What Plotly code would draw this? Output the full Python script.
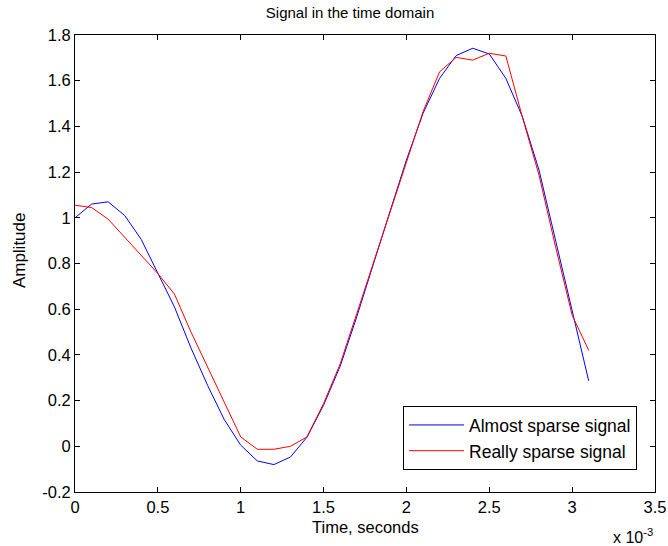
import plotly.graph_objects as go

# --- data (time in units of 1e-3 s) ---
time_ms = [0.0, 0.1, 0.2, 0.3, 0.4, 0.5, 0.6, 0.7, 0.8, 0.9,
           1.0, 1.1, 1.2, 1.3, 1.4, 1.5, 1.6, 1.7, 1.8, 1.9,
           2.0, 2.1, 2.2, 2.3, 2.4, 2.5, 2.6, 2.7, 2.8, 2.9,
           3.0, 3.1]

almost_sparse = [1.00, 1.06, 1.07, 1.01, 0.905, 0.76, 0.61, 0.43, 0.267, 0.118,
                 0.005, -0.064, -0.08, -0.047, 0.04, 0.18, 0.35, 0.566, 0.80, 1.026,
                 1.253, 1.457, 1.61, 1.71, 1.742, 1.717, 1.61, 1.442, 1.209, 0.902,
                 0.596, 0.286]

really_sparse = [1.055, 1.045, 0.994, 0.914, 0.834, 0.756, 0.666, 0.50, 0.347, 0.194,
                 0.041, -0.013, -0.013, 0.0, 0.041, 0.187, 0.36, 0.58, 0.80, 1.019,
                 1.238, 1.464, 1.639, 1.702, 1.69, 1.72, 1.708, 1.44, 1.187, 0.873,
                 0.574, 0.42]

x_ticks = [0, 0.5, 1, 1.5, 2, 2.5, 3, 3.5]
y_ticks = [-0.2, 0, 0.2, 0.4, 0.6, 0.8, 1, 1.2, 1.4, 1.6, 1.8]

font = 'Liberation Sans, Arial, sans-serif'

fig = go.Figure()
fig.add_trace(go.Scatter(x=time_ms, y=almost_sparse, mode='lines',
                         name='Almost sparse signal',
                         line=dict(color='#0000ff', width=1)))
fig.add_trace(go.Scatter(x=time_ms, y=really_sparse, mode='lines',
                         name='Really sparse signal',
                         line=dict(color='#ff0000', width=1)))

axis_style = dict(showgrid=False, zeroline=False, showline=True, mirror='ticks',
                  linecolor='black', linewidth=1, ticks='inside', ticklen=5,
                  tickcolor='black', automargin=False,
                  tickfont=dict(size=16.5, color='black'))

fig.update_layout(
    width=668, height=546,
    margin=dict(l=75, r=13, t=35, b=54),
    paper_bgcolor='white', plot_bgcolor='white',
    font=dict(family=font, size=16, color='black'),
    title=dict(text='Signal in the time domain', xref='container', x=0.524,
               xanchor='center', y=0.976, yanchor='middle', font=dict(size=15)),
    showlegend=True,
    legend=dict(x=0.969, y=0.118, xanchor='right', yanchor='middle',
                bgcolor='white', bordercolor='black', borderwidth=1,
                font=dict(size=17.5), itemwidth=55, tracegroupgap=0),
)
fig.update_xaxes(range=[0, 3.5], tickvals=x_ticks,
                 ticktext=[f'{v:g}' for v in x_ticks], **axis_style)
fig.update_yaxes(range=[-0.2, 1.8], tickvals=y_ticks,
                 ticktext=[f'{v:g}' for v in y_ticks], **axis_style)

# axis titles and the MATLAB-style exponent label
fig.add_annotation(text='Time, seconds', xref='paper', yref='paper',
                   x=0.5, y=-0.076, xanchor='center', yanchor='middle',
                   showarrow=False, font=dict(size=16.5))
fig.add_annotation(text='Amplitude', xref='paper', yref='paper', textangle=-90,
                   x=-0.096, y=0.53, xanchor='center', yanchor='middle',
                   showarrow=False, font=dict(size=17))
fig.add_annotation(text='x 10<sup>-3</sup>', xref='paper', yref='paper',
                   x=1.0, y=-0.097, xanchor='right', yanchor='middle',
                   showarrow=False, font=dict(size=16))

# drop the default page margin so the figure sits at the window's corner
fig.write_html('out.html', config={'displayModeBar': False},
               post_script="document.body.style.margin='0';")
